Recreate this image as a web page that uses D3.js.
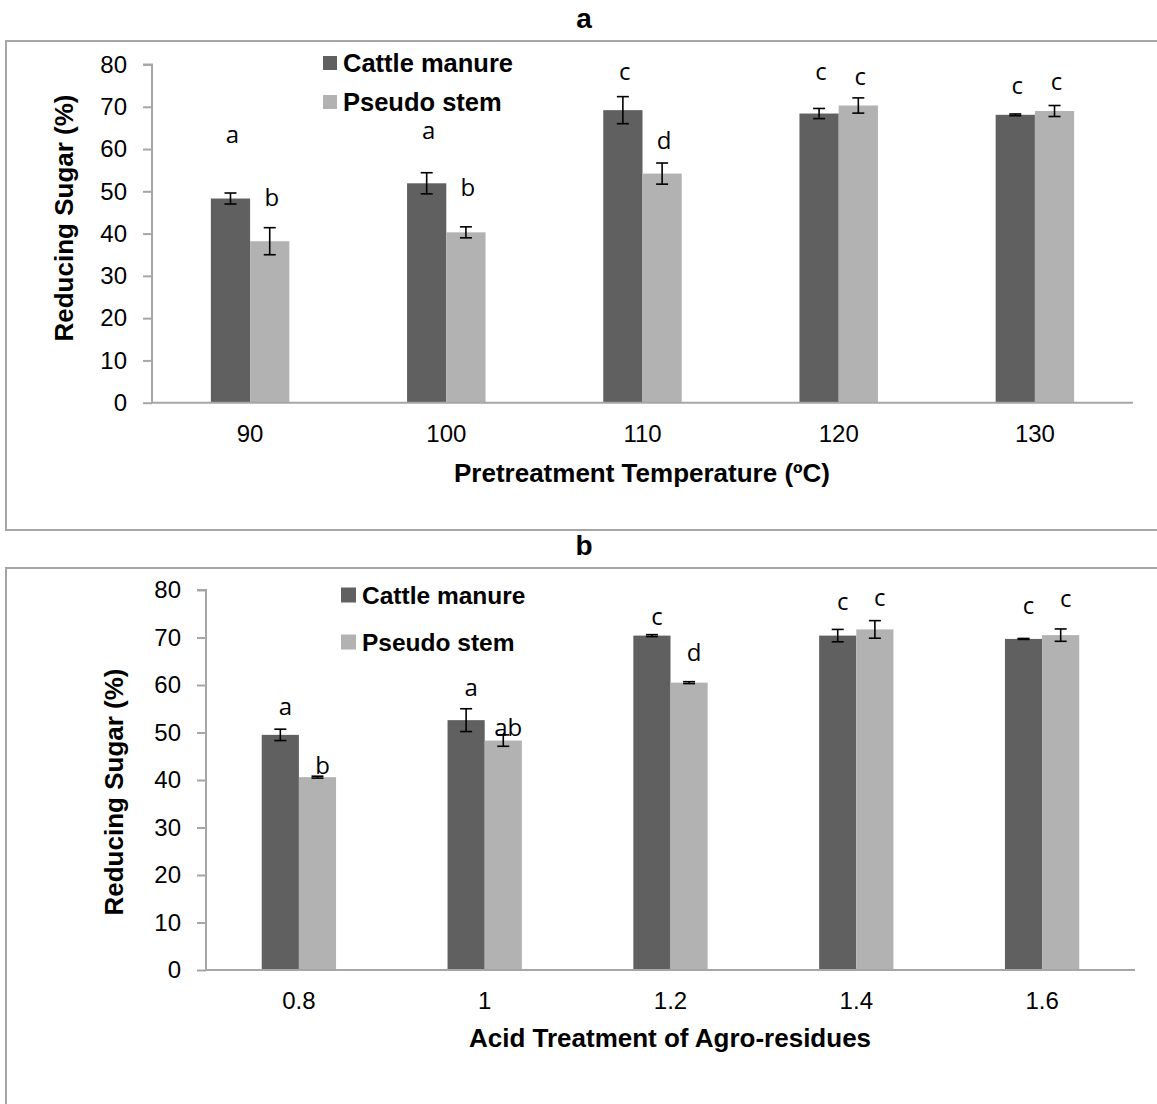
<!DOCTYPE html>
<html>
<head>
<meta charset="utf-8">
<script src="https://cdn.jsdelivr.net/npm/d3@7"></script>
<style>
  body { margin: 0; background: #fff; }
  svg { display: block; }
</style>
</head>
<body>
<div id="chart"></div>
<script>
// panel a: pretreatment temperature
const tempCats = ["90", "100", "110", "120", "130"];
const tempCattle = [48.3, 51.9, 69.2, 68.4, 68.1];
const tempCattleErr = [1.3, 2.5, 3.2, 1.2, 0.2];
const tempPseudo = [38.2, 40.3, 54.2, 70.3, 69.0];
const tempPseudoErr = [3.2, 1.3, 2.5, 1.8, 1.3];
const tempCattleLetters = ["a", "a", "c", "c", "c"];
const tempPseudoLetters = ["b", "b", "d", "c", "c"];
const tempCattleLetterAt = [63.3, 64.3, 78.3, 78.3, 74.9];
const tempPseudoLetterAt = [48.6, 50.8, 62.1, 77.2, 76.0];

// panel b: acid treatment
const acidCats = ["0.8", "1", "1.2", "1.4", "1.6"];
const acidCattle = [49.5, 52.6, 70.4, 70.4, 69.7];
const acidCattleErr = [1.2, 2.4, 0.2, 1.3, 0.1];
const acidPseudo = [40.6, 48.3, 60.5, 71.7, 70.5];
const acidPseudoErr = [0.2, 1.2, 0.2, 1.85, 1.3];
const acidCattleLetters = ["a", "a", "c", "c", "c"];
const acidPseudoLetters = ["b", "ab", "d", "c", "c"];
const acidCattleLetterAt = [55.5, 59.5, 74.5, 77.6, 76.8];
const acidPseudoLetterAt = [43.0, 51.1, 66.9, 78.3, 78.1];

const seriesNames = ["Cattle manure", "Pseudo stem"];
const yTicks = [0, 10, 20, 30, 40, 50, 60, 70, 80];

const colors = ["#606060", "#b2b2b2"];
const gridGray = "#a6a6a6";

const W = 1157, H = 1104;
const svg = d3.select("#chart").append("svg")
  .attr("width", W)
  .attr("height", H);

function drawPanel(p) {
  const g = svg.append("g");

  // outer frame (runs off the right / bottom like the original)
  g.append("rect")
    .attr("x", p.box.x).attr("y", p.box.y)
    .attr("width", p.box.w).attr("height", p.box.h)
    .attr("fill", "none")
    .attr("stroke", gridGray)
    .attr("stroke-width", 2);

  // panel letter
  g.append("text")
    .attr("x", 584).attr("y", p.box.y - 13)
    .attr("text-anchor", "middle")
    .style("font", "bold 28px 'Liberation Sans', Arial, sans-serif")
    .text(p.title);

  const x = d3.scaleBand()
    .domain(p.cats)
    .range([p.left, p.right])
    .paddingInner(0.6)
    .paddingOuter(0.3);

  const xs = d3.scaleBand()
    .domain([0, 1])
    .range([0, x.bandwidth()]);

  const y = d3.scaleLinear()
    .domain([0, 80])
    .range([p.bottom, p.top]);

  // y axis
  const yAxis = g.append("g")
    .attr("transform", `translate(${p.left},0)`)
    .call(d3.axisLeft(y).tickValues(yTicks).tickSize(9).tickPadding(16));
  yAxis.selectAll("path, line").attr("stroke", gridGray).attr("stroke-width", 2);
  yAxis.select(".domain").attr("d", `M-9,${y(80)}H0V${y(0)}`);
  yAxis.selectAll("text")
    .attr("fill", "#000")
    .style("font", "24px 'Liberation Sans', Arial, sans-serif");

  // bars
  const rows = p.cats.map((c, i) => ({
    cat: c,
    vals: [
      { s: 0, v: p.cattle[i], e: p.cattleErr[i], l: p.cattleLetters[i], la: p.cattleLetterAt[i] },
      { s: 1, v: p.pseudo[i], e: p.pseudoErr[i], l: p.pseudoLetters[i], la: p.pseudoLetterAt[i] }
    ]
  }));

  const grp = g.selectAll(".grp")
    .data(rows)
    .join("g")
    .attr("class", "grp")
    .attr("transform", d => `translate(${x(d.cat)},0)`);

  grp.selectAll("rect")
    .data(d => d.vals)
    .join("rect")
    .attr("x", d => xs(d.s))
    .attr("y", d => y(d.v))
    .attr("width", xs.bandwidth())
    .attr("height", d => y(0) - y(d.v))
    .attr("fill", d => colors[d.s]);

  // x axis line
  const xAxis = g.append("g")
    .attr("transform", `translate(0,${p.bottom})`)
    .call(d3.axisBottom(x).tickSize(0).tickPadding(22));
  xAxis.select(".domain")
    .attr("stroke", gridGray)
    .attr("stroke-width", 2)
    .attr("d", `M${p.left},0H${p.right}`);
  xAxis.selectAll("text")
    .attr("fill", "#000")
    .style("font", "24px 'Liberation Sans', Arial, sans-serif");

  // error bars
  const cap = 6;
  const eb = grp.selectAll(".err")
    .data(d => d.vals)
    .join("g")
    .attr("class", "err")
    .attr("transform", d => `translate(${xs(d.s) + xs.bandwidth() / 2},0)`);
  eb.append("line")
    .attr("y1", d => y(d.v - d.e)).attr("y2", d => y(d.v + d.e));
  eb.append("line")
    .attr("x1", -cap).attr("x2", cap)
    .attr("y1", d => y(d.v + d.e)).attr("y2", d => y(d.v + d.e));
  eb.append("line")
    .attr("x1", -cap).attr("x2", cap)
    .attr("y1", d => y(d.v - d.e)).attr("y2", d => y(d.v - d.e));
  eb.selectAll("line").attr("stroke", "#000").attr("stroke-width", 1.6);

  // significance letters
  grp.selectAll(".sig")
    .data(d => d.vals)
    .join("text")
    .attr("class", "sig")
    .attr("x", d => xs(d.s) + xs.bandwidth() / 2 + p.letterDx)
    .attr("y", d => y(d.la))
    .attr("dy", "0.35em")
    .attr("text-anchor", "middle")
    .style("font", "24px 'Open Sans', sans-serif")
    .text(d => d.l);

  // legend
  seriesNames.forEach((name, i) => {
    const ly = p.legend.y[i];
    g.append("rect")
      .attr("x", p.legend.x).attr("y", ly - p.legend.sq / 2)
      .attr("width", p.legend.sq).attr("height", p.legend.sq)
      .attr("fill", colors[i]);
    g.append("text")
      .attr("x", p.legend.x + p.legend.sq + 6).attr("y", ly)
      .attr("dy", "0.35em")
      .style("font", `bold ${p.legend.fs}px 'Liberation Sans', Arial, sans-serif`)
      .text(name);
  });

  // axis titles
  g.append("text")
    .attr("x", p.xTitle.x).attr("y", p.xTitle.y)
    .attr("dy", "0.35em")
    .attr("text-anchor", "middle")
    .style("font", "bold 26px 'Liberation Sans', Arial, sans-serif")
    .text(p.xLabel);

  g.append("text")
    .attr("transform", `translate(${p.yTitle.x},${p.yTitle.y}) rotate(-90)`)
    .attr("dy", "0.35em")
    .attr("text-anchor", "middle")
    .style("font", "bold 26px 'Liberation Sans', Arial, sans-serif")
    .text("Reducing Sugar (%)");
}

drawPanel({
  title: "a",
  box: { x: 6, y: 41, w: 1200, h: 489 },
  cats: tempCats,
  cattle: tempCattle, cattleErr: tempCattleErr,
  pseudo: tempPseudo, pseudoErr: tempPseudoErr,
  cattleLetters: tempCattleLetters, pseudoLetters: tempPseudoLetters,
  cattleLetterAt: tempCattleLetterAt, pseudoLetterAt: tempPseudoLetterAt,
  letterDx: 2,
  left: 152, right: 1133, top: 64.5, bottom: 402.7,
  legend: { x: 323, y: [63, 102], sq: 14, fs: 25.5 },
  xLabel: "Pretreatment Temperature (ºC)",
  xTitle: { x: 642, y: 473 },
  yTitle: { x: 64, y: 218 }
});

drawPanel({
  title: "b",
  box: { x: 6, y: 568, w: 1200, h: 600 },
  cats: acidCats,
  cattle: acidCattle, cattleErr: acidCattleErr,
  pseudo: acidPseudo, pseudoErr: acidPseudoErr,
  cattleLetters: acidCattleLetters, pseudoLetters: acidPseudoLetters,
  cattleLetterAt: acidCattleLetterAt, pseudoLetterAt: acidPseudoLetterAt,
  letterDx: 5,
  left: 206, right: 1135, top: 590, bottom: 970,
  legend: { x: 341, y: [595, 642], sq: 15, fs: 24.5 },
  xLabel: "Acid Treatment of Agro-residues",
  xTitle: { x: 670, y: 1038 },
  yTitle: { x: 114, y: 792 }
});
</script>
</body>
</html>
